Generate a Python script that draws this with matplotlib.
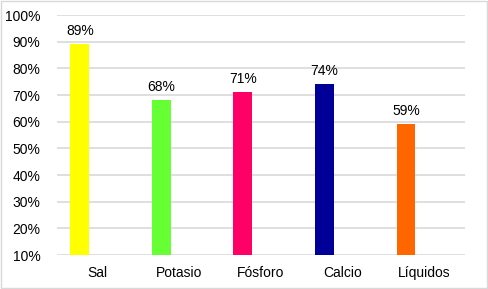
import numpy as np
import matplotlib.pyplot as plt
from matplotlib.patches import Rectangle

categories = ["Sal", "Potasio", "Fósforo", "Calcio", "Líquidos"]
values = [0.89, 0.68, 0.71, 0.74, 0.59]
colors = ["#FFFF00", "#66FF33", "#FF0066", "#000099", "#FF6600"]
yticks = [0.1, 0.2, 0.3, 0.4, 0.5, 0.6, 0.7, 0.8, 0.9, 1.0]

plt.rcParams['font.family'] = ['Liberation Sans', 'DejaVu Sans']

fig = plt.figure(figsize=(4.88, 2.89), dpi=100)
ax = fig.add_axes([0.1168, 0.1176, 0.8352, 0.8304])

x = np.arange(len(categories))
bars = ax.bar(x - 0.22, values, width=0.23, color=colors, zorder=3)
for b, v in zip(bars, values):
    ax.text(b.get_x() + b.get_width() / 2, v + 0.022, f"{round(v * 100)}%",
            ha='center', va='bottom', fontsize=10)

ax.set_xlim(-0.5, len(categories) - 0.5)
ax.set_ylim(0.1, 1.0)
ax.set_yticks(yticks)
ax.set_yticklabels([f"{round(t * 100)}%" for t in yticks], fontsize=10)
ax.set_xticks(x)
ax.set_xticklabels(categories, fontsize=10)
ax.tick_params(length=0, pad=12)
ax.tick_params(axis='x', pad=8)
ax.grid(axis='y', color='#d9d9d9', linewidth=1.2, zorder=0)
for s in ax.spines.values():
    s.set_visible(False)

fig.patches.append(Rectangle((0.002, 0.003), 0.996, 0.994, transform=fig.transFigure,
                             fill=False, edgecolor='#d9d9d9', linewidth=1))

fig.savefig("out.png", dpi=100)
